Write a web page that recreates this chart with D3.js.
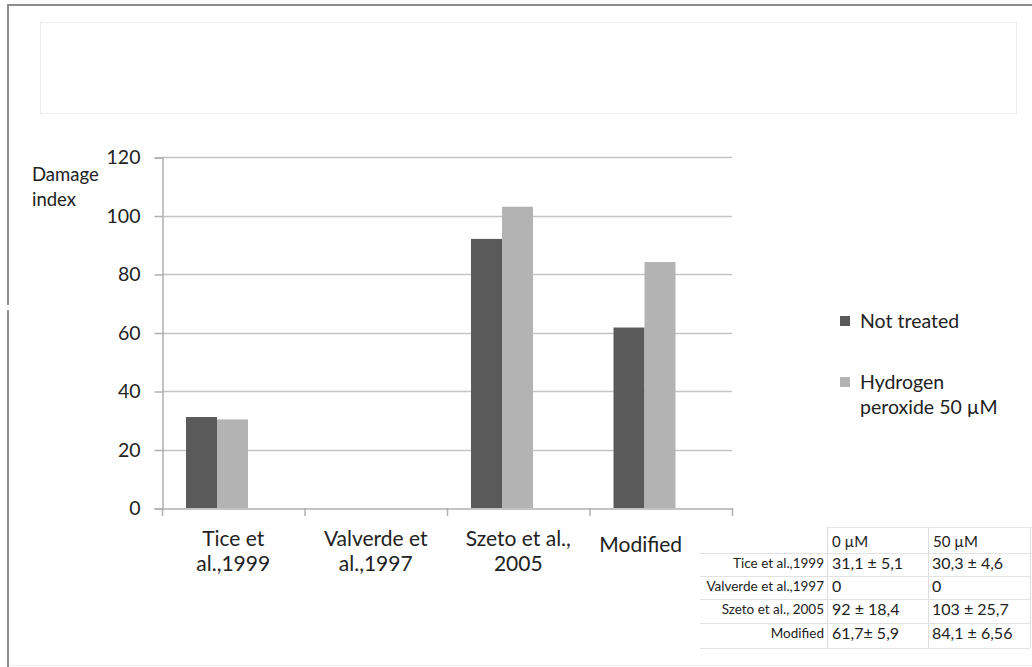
<!DOCTYPE html>
<html>
<head>
<meta charset="utf-8">
<script src="https://cdn.jsdelivr.net/npm/d3@7"></script>
<style>
  html, body { margin: 0; padding: 0; background: #fff; }
  svg { display: block; }
  text { font-family: Lato, "Open Sans", sans-serif; fill: #222; }
</style>
</head>
<body>
<script>
// ---------- data ----------
const categories = ["Tice et al.,1999", "Valverde et al.,1997", "Szeto et al., 2005", "Modified"];
const categoryLabelLines = [["Tice et", "al.,1999"], ["Valverde et", "al.,1997"], ["Szeto et al.,", "2005"], ["Modified"]];
const seriesNames = ["Not treated", "Hydrogen peroxide 50 µM"];
const legendLabelLines = [["Not treated"], ["Hydrogen", "peroxide 50 µM"]];
const notTreated = [31.1, 0, 92, 61.7];
const hydrogenPeroxide = [30.3, 0, 103, 84.1];
const yTicks = [0, 20, 40, 60, 80, 100, 120];
const yLabelLines = ["Damage", "index"];
const tableHeaders = ["0 µM", "50 µM"];
const tableRowLabels = ["Tice et al.,1999", "Valverde et al.,1997", "Szeto et al., 2005", "Modified"];
const tableCol0 = ["31,1 ± 5,1", "0", "92 ± 18,4", "61,7± 5,9"];
const tableCol1 = ["30,3 ± 4,6", "0", "103 ± 25,7", "84,1 ± 6,56"];

// ---------- layout / style ----------
const colors = ["#5a5a5a", "#b3b3b3"];
const W = 1032, H = 667;
const labelShift = { "Modified": -20 };

const svg = d3.select("body").append("svg").attr("width", W).attr("height", H);

// outer frame
svg.append("line").attr("x1", 7).attr("x2", W).attr("y1", 5).attr("y2", 5).attr("stroke", "#8c8c8c").attr("stroke-width", 2);
svg.append("line").attr("x1", 8).attr("x2", 8).attr("y1", 4).attr("y2", 305).attr("stroke", "#8c8c8c").attr("stroke-width", 2);
svg.append("line").attr("x1", 8).attr("x2", 8).attr("y1", 310).attr("y2", H).attr("stroke", "#8c8c8c").attr("stroke-width", 2);
svg.append("line").attr("x1", 10).attr("x2", W).attr("y1", 665.5).attr("y2", 665.5).attr("stroke", "#f0f0f0").attr("stroke-width", 1);

// empty title box
svg.append("rect").attr("x", 40.5).attr("y", 22.5).attr("width", 976).attr("height", 91)
  .attr("fill", "none").attr("stroke", "#ececec");

// ---------- scales ----------
const x = d3.scaleBand().domain(categories).range([162, 732]).paddingInner(0).paddingOuter(0);
const xSeries = d3.scaleBand().domain(seriesNames).range([24, 86]);
const y = d3.scaleLinear().domain([0, 120]).range([508, 157]);

// gridlines
svg.append("g").selectAll("line").data(yTicks.filter(d => d > 0)).join("line")
  .attr("x1", 162).attr("x2", 732)
  .attr("y1", d => Math.round(y(d)) + 0.5).attr("y2", d => Math.round(y(d)) + 0.5)
  .attr("stroke", "#c4c4c4").attr("stroke-width", 1.5);

// y axis
const yAxis = svg.append("g").attr("transform", "translate(162.5,0.5)")
  .call(d3.axisLeft(y).tickValues(yTicks).tickSize(8).tickPadding(14).tickFormat(d3.format("d")));
yAxis.select(".domain").attr("stroke", "#b0b0b0").attr("stroke-width", 1.5);
yAxis.selectAll(".tick line").attr("stroke", "#b0b0b0").attr("stroke-width", 1.5);
yAxis.selectAll(".tick text").style("font-family", "Lato, sans-serif").style("font-size", "19.5px").attr("fill", "#333");

// bars
const seriesData = [notTreated, hydrogenPeroxide];
seriesNames.forEach((s, si) => {
  svg.append("g").selectAll("rect").data(categories).join("rect")
    .attr("x", c => x(c) + xSeries(s))
    .attr("width", xSeries.bandwidth())
    .attr("y", (c, i) => y(seriesData[si][i]))
    .attr("height", (c, i) => y(0) - y(seriesData[si][i]))
    .attr("fill", colors[si]);
});

// x axis
const xAxis = svg.append("g").attr("transform", "translate(0,508.5)")
  .call(d3.axisBottom(x).tickSize(0).tickFormat(""));
xAxis.select(".domain").attr("stroke", "#b0b0b0").attr("stroke-width", 1.5);
// category boundary ticks
svg.append("g").selectAll("line").data(categories.concat(["end"])).join("line")
  .attr("x1", (c, i) => i < categories.length ? x(c) + 0.5 : x.range()[1] + 0.5)
  .attr("x2", (c, i) => i < categories.length ? x(c) + 0.5 : x.range()[1] + 0.5)
  .attr("y1", 508).attr("y2", 516).attr("stroke", "#b0b0b0").attr("stroke-width", 1.5);

// x labels
categories.forEach((c, i) => {
  const lines = categoryLabelLines[i];
  const cx = x(c) + x.bandwidth() / 2 + (labelShift[c] || 0);
  const t = svg.append("text").attr("text-anchor", "middle")
    .attr("x", cx)
    .attr("y", lines.length === 1 ? 552 : 546)
    .style("font-size", "21px").attr("fill", "#333");
  lines.forEach((l, j) => t.append("tspan").attr("x", cx).attr("dy", j === 0 ? 0 : 25).text(l));
});

// y label
const yl = svg.append("text").attr("x", 32).attr("y", 181).style("font-size", "18.5px").attr("fill", "#333");
yLabelLines.forEach((l, j) => yl.append("tspan").attr("x", 32).attr("dy", j === 0 ? 0 : 25).text(l));

// legend
const legendY = [316, 377];
seriesNames.forEach((s, i) => {
  svg.append("rect").attr("x", 840).attr("y", legendY[i]).attr("width", 10).attr("height", 10).attr("fill", colors[i]);
  const t = svg.append("text").attr("x", 860).attr("y", legendY[i] + 12).style("font-size", "19.5px").attr("fill", "#333");
  legendLabelLines[i].forEach((l, j) => t.append("tspan").attr("x", 860).attr("dy", j === 0 ? 0 : 25).text(l));
});

// ---------- table ----------
const colX = [827, 928, 1030];
const rowY = [527, 553, 576, 599, 623, 648];
const tg = svg.append("g");
rowY.forEach((yy, i) => {
  tg.append("line").attr("x1", i === 0 ? colX[0] : 700).attr("x2", colX[2])
    .attr("y1", yy + 0.5).attr("y2", yy + 0.5).attr("stroke", i === 0 ? "#e6e6e6" : "#e2e2e2");
});
colX.forEach(xx => {
  tg.append("line").attr("x1", xx + 0.5).attr("x2", xx + 0.5).attr("y1", rowY[0]).attr("y2", rowY[5]).attr("stroke", "#dedede");
});
tableHeaders.forEach((h, i) => {
  tg.append("text").attr("x", colX[i] + 5).attr("y", rowY[0] + 20).style("font-size", "15px").attr("fill", "#333").text(h);
});
tableRowLabels.forEach((r, i) => {
  tg.append("text").attr("x", colX[0] - 3).attr("y", rowY[i + 1] + 15).attr("text-anchor", "end")
    .style("font-size", "13.5px").attr("fill", "#333").text(r);
  tg.append("text").attr("x", colX[0] + 5).attr("y", rowY[i + 1] + 16).style("font-size", "16px").attr("fill", "#333").text(tableCol0[i]);
  tg.append("text").attr("x", colX[1] + 4).attr("y", rowY[i + 1] + 16).style("font-size", "16px").attr("fill", "#333").text(tableCol1[i]);
});
</script>
</body>
</html>
